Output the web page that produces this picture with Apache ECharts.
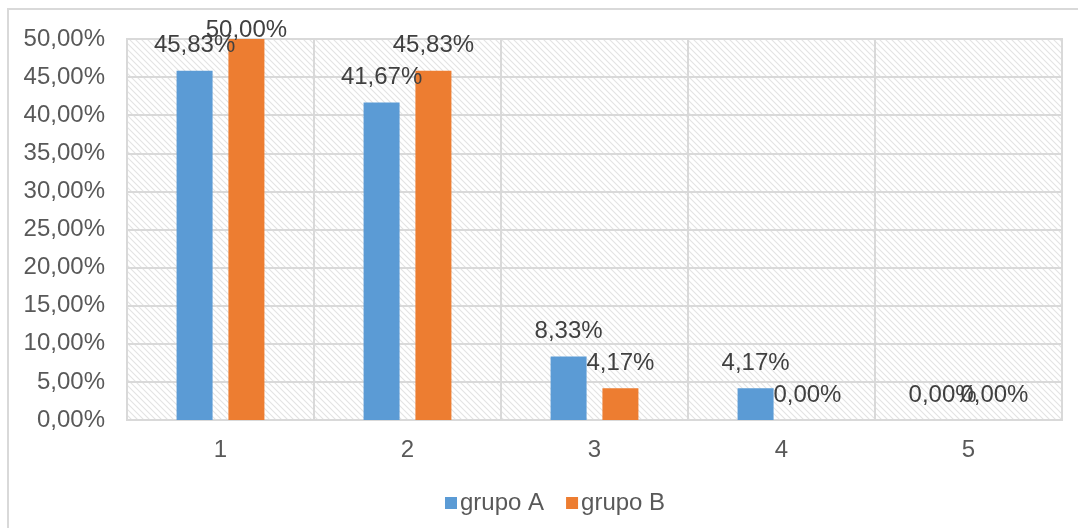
<!DOCTYPE html>
<html>
<head>
<meta charset="utf-8">
<script src="https://cdn.jsdelivr.net/npm/echarts@6/dist/echarts.min.js"></script>
<style>
  html, body { margin: 0; padding: 0; background: #fff; }
  #chart { width: 1078px; height: 528px; }
</style>
</head>
<body>
<div id="chart"></div>
<script>
// Categories and percentage values per group
const categories = ['1', '2', '3', '4', '5'];
const grupoA = [45.83, 41.67, 8.33, 4.17, 0.00];
const grupoB = [50.00, 45.83, 4.17, 0.00, 0.00];
const seriesNames = ['grupo A', 'grupo B'];

const Y_MAX = 50;
const fmt = v => Number(v).toFixed(2).replace('.', ',') + '%';

// Diagonal hatch used as the plot-area fill
function hatch() {
  const c = document.createElement('canvas');
  c.width = 6; c.height = 6;
  const g = c.getContext('2d');
  g.fillStyle = '#ffffff';
  g.fillRect(0, 0, 6, 6);
  g.strokeStyle = '#e3e3e3';
  g.lineWidth = 1.1;
  g.beginPath();
  g.moveTo(-1, -1); g.lineTo(7, 7);
  g.moveTo(-1, 5); g.lineTo(1, 7);
  g.moveTo(5, -1); g.lineTo(7, 1);
  g.stroke();
  return c;
}

// Labels on bars that reach the top of the scale are kept inside the chart
const withLabels = arr => arr.map(v => ({
  value: v,
  label: { distance: v >= Y_MAX ? -3 : 13 }
}));

const textColor = '#595959';
const gridColor = '#d9d9d9';

const chart = echarts.init(document.getElementById('chart'), null, { renderer: 'canvas' });
chart.setOption({
  animation: false,
  textStyle: { fontFamily: 'Liberation Sans, Arial, sans-serif' },
  graphic: [{
    type: 'rect',
    shape: { x: 8, y: 9, width: 1200, height: 700 },
    style: { fill: 'none', stroke: gridColor, lineWidth: 2 },
    silent: true,
    z: -10
  }],
  grid: {
    left: 127, right: 16, top: 39, bottom: 108,
    show: true,
    backgroundColor: { image: hatch(), repeat: 'repeat' },
    borderColor: gridColor,
    borderWidth: 2
  },
  legend: {
    left: 440, top: 486,
    itemWidth: 12, itemHeight: 12, itemGap: 22,
    icon: 'rect',
    textStyle: { fontSize: 24, color: textColor, padding: [0, 0, 0, -2] },
    data: seriesNames
  },
  xAxis: {
    type: 'category',
    data: categories,
    axisLine: { show: true, lineStyle: { color: gridColor, width: 2 } },
    axisTick: { show: false },
    splitLine: { show: true, lineStyle: { color: gridColor, width: 2 } },
    axisLabel: { fontSize: 24, color: textColor, margin: 18 }
  },
  yAxis: {
    type: 'value',
    min: 0, max: Y_MAX, interval: 5,
    axisLine: { show: false },
    axisTick: { show: false },
    splitLine: { show: true, lineStyle: { color: gridColor, width: 2 } },
    axisLabel: { fontSize: 24, color: textColor, margin: 22, formatter: fmt }
  },
  series: [
    {
      name: seriesNames[0], type: 'bar', data: withLabels(grupoA),
      barWidth: 36, barGap: '44%',
      itemStyle: { color: '#5b9bd5' },
      label: { show: true, position: 'top', fontSize: 24, color: '#404040', formatter: p => fmt(p.value) }
    },
    {
      name: seriesNames[1], type: 'bar', data: withLabels(grupoB),
      barWidth: 36, barGap: '44%',
      itemStyle: { color: '#ed7d31' },
      label: { show: true, position: 'top', fontSize: 24, color: '#404040', formatter: p => fmt(p.value) }
    }
  ]
});
</script>
</body>
</html>
